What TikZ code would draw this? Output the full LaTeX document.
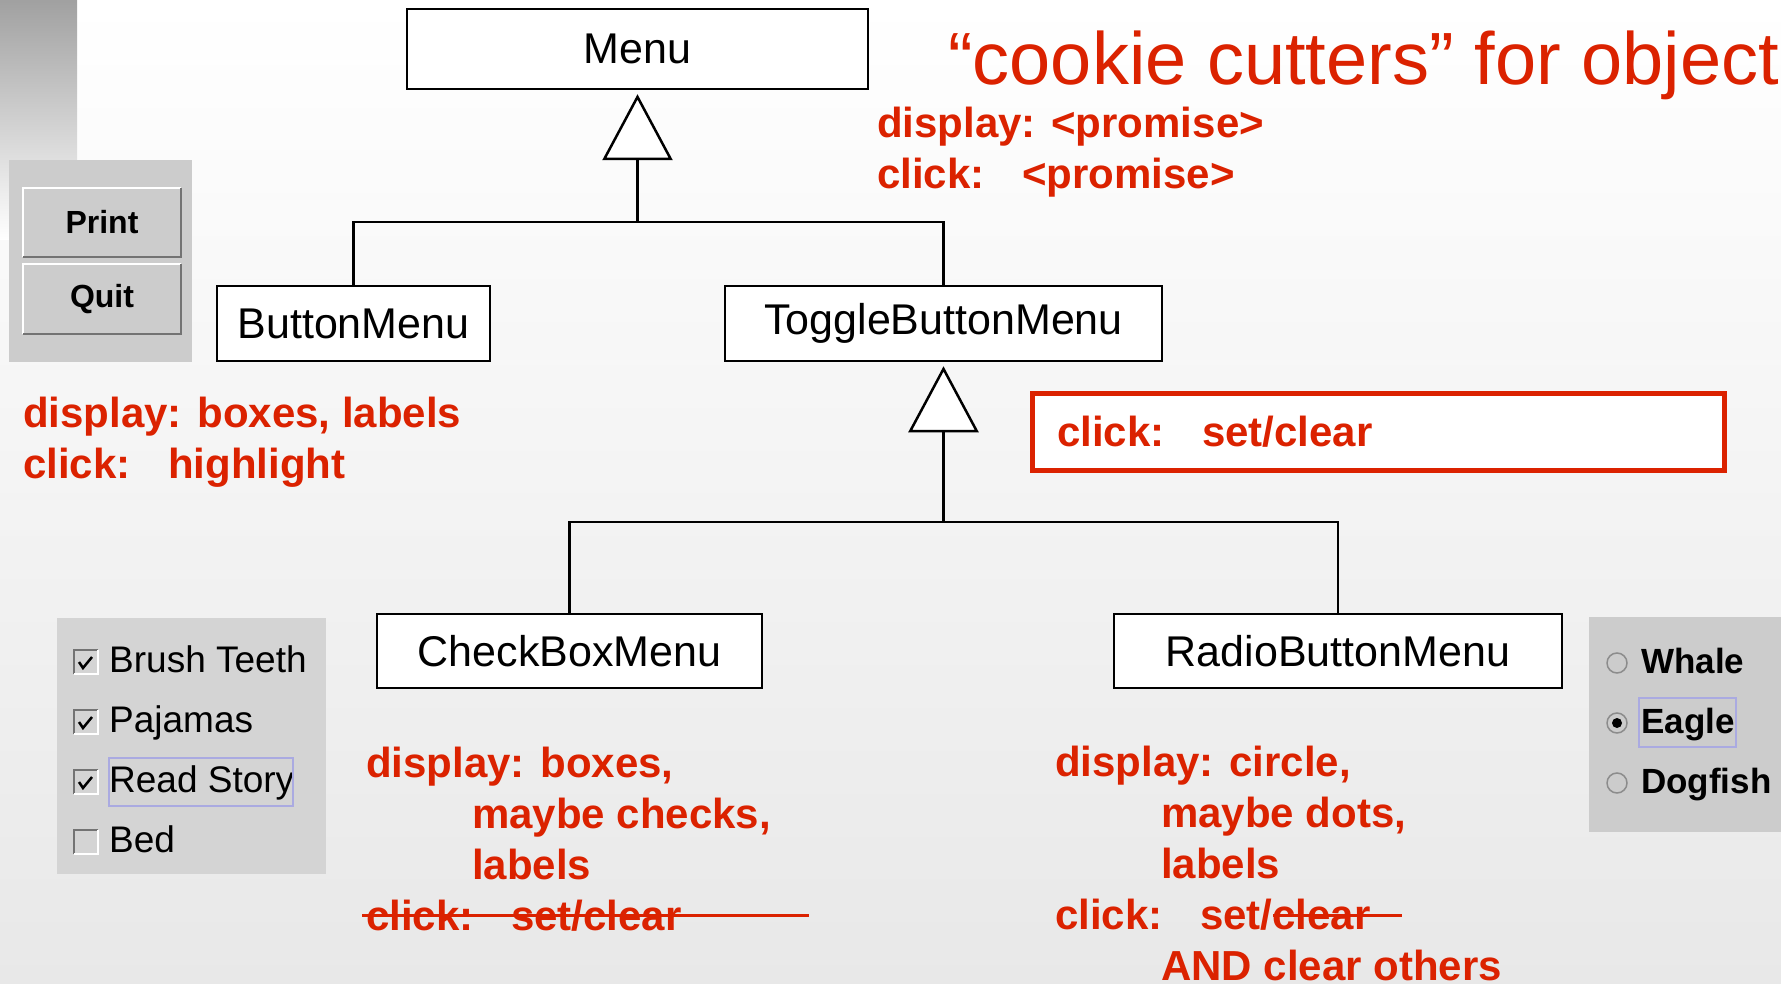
\documentclass[tikz,border=0pt]{standalone}
\usepackage{fontspec}
\setmainfont{Liberation Sans}
\usepackage{xcolor}
\usetikzlibrary{arrows.meta,shapes}

\definecolor{slidered}{RGB}{219,34,0}
\definecolor{panelgray}{RGB}{204,204,204}
\definecolor{listgray}{RGB}{212,212,212}
\definecolor{focusblue}{RGB}{170,170,225}

\newcommand{\clickcol}{\makebox[145pt][l]{click:}}
\newcommand{\indentcol}{\hspace*{106pt}}

\begin{document}
\begin{tikzpicture}[x=1pt,y=-1pt,
    cls/.style={draw=black, line width=2.5pt, fill=white, inner sep=0pt, font=\fontsize{43}{50}\selectfont},
    note/.style={text=slidered, inner sep=0pt, anchor=base west, align=left, font=\bfseries\fontsize{42}{51}\selectfont},
    link/.style={line width=2.5pt},
    isa/.style={link, -{Triangle[open, fill=white, length=66pt, width=70pt, line width=2.5pt]}, shorten >=4pt},
    btn/.style={fill=panelgray, inner sep=0pt, minimum width=158pt, minimum height=69pt, font=\bfseries\fontsize{32}{36}\selectfont},
    item/.style={anchor=base west, inner sep=0pt, font=\fontsize{37}{40}\selectfont},
    radio/.style={anchor=base west, inner sep=0pt, font=\bfseries\fontsize{35}{40}\selectfont}]
    \useasboundingbox (0,0) rectangle (1781,984);
    % background
    \shade[top color=white, bottom color=black!9] (0,0) rectangle (1781,984);
    \shade[top color=black!37, bottom color=white] (0,0) rectangle (77,240);

    % Print / Quit
    \fill[panelgray] (9,160) rectangle (192,362);
    \node[btn] (print) at (102,222.5) {Print};
    \node[btn] (quit) at (102,299) {Quit};
    \foreach \b in {print,quit}{
        \draw[white, line width=2pt] (\b.south west) -- (\b.north west) -- (\b.north east);
        \draw[black!55, line width=2pt] (\b.north east) -- (\b.south east) -- (\b.south west);
    }

    % check boxes
    \fill[listgray] (57,618) rectangle (326,874);
    \foreach \lbl/\yy/\chk in {Brush Teeth/672/1, Pajamas/732/1, Read Story/792/1, Bed/852/0}{
        \draw[black!55, line width=1.5pt] (74,\yy+2) -- (74,\yy-22) -- (98,\yy-22);
        \draw[white, line width=1.5pt] (98,\yy-22) -- (98,\yy+2) -- (74,\yy+2);
        \ifnum\chk=1 \draw[line width=2.5pt] (79,\yy-10) -- (83,\yy-4) -- (92,\yy-15); \fi
        \node[item] (cb\yy) at (109,\yy) {\lbl};
    }
    \draw[focusblue, line width=1.5pt] (109,758) rectangle (293,806);

    % radio buttons
    \fill[panelgray] (1589,617) rectangle (1781,832);
    \foreach \lbl/\yy in {Whale/673, Eagle/733, Dogfish/793}{
        \draw[black!45, line width=1.5pt] (1617,\yy-10) circle (10);
        \node[radio] (rb\lbl) at (1641,\yy) {\lbl};
    }
    \fill (1617,723) circle (5);
    \draw[focusblue, line width=1.5pt] (1639,698) rectangle (1736,747);

    % classes
    \node[cls, minimum width=461pt, minimum height=80pt] (menu) at (637.5,49) {Menu};
    \node[cls, minimum width=273pt, minimum height=75pt] (bm) at (353.5,323.5) {ButtonMenu};
    \node[cls, minimum width=437pt, minimum height=75pt] (tbm) at (943.5,323.5) {ToggleButtonMenu};
    \node[cls, minimum width=385pt, minimum height=74pt] (cbm) at (569.5,651) {CheckBoxMenu};
    \node[cls, minimum width=448pt, minimum height=74pt] (rbm) at (1338,651) {RadioButtonMenu};

    \coordinate (j1) at (637.5,222);
    \coordinate (j2) at (943.5,522);
    \draw[link] (bm.north) |- (j1) -| (tbm.north);
    \draw[isa] (j1) -- (menu.south);
    \draw[link] (cbm.north) |- (j2) -| (rbm.north);
    \draw[isa] (j2) -- (tbm.south);

    % notes
    \node[anchor=base west, inner sep=0pt, text=slidered, font=\fontsize{74}{80}\selectfont] (title) at (948,85) {“cookie cutters” for object};
    \node[note] (menunote) at (877,189) {display: <promise>\\\clickcol<promise>};
    \node[note] (bmnote) at (23,478) {display: boxes, labels\\\clickcol highlight};
    \draw[slidered, line width=5pt, fill=white] (1032,393) rectangle (1724,470);
    \node[note] (tbmnote) at (1057,446) {\clickcol set/clear};
    \node[note] (cbmnote) at (366,930) {display: boxes,\\\indentcol maybe checks,\\\indentcol labels\\\clickcol set/clear};
    \draw[slidered, line width=3pt] (362,915) -- (809,915);
    \node[note] (rbmnote) at (1055,980) {display: circle,\\\indentcol maybe dots,\\\indentcol labels\\\clickcol set/clear\\\indentcol AND clear others};
    \draw[slidered, line width=3pt] (1273,915) -- (1402,915);
\end{tikzpicture}
\end{document}
